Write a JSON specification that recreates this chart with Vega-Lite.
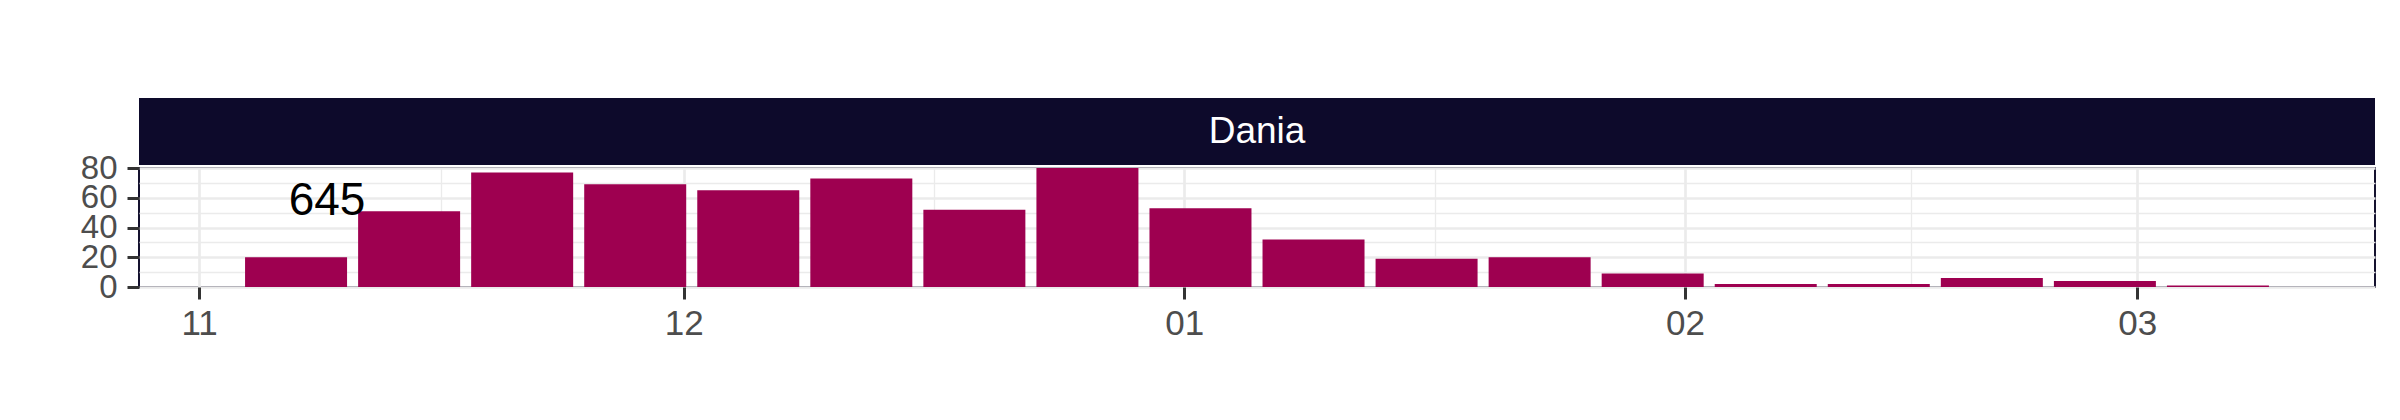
{
  "$schema": "https://vega.github.io/schema/vega-lite/v6.json",
  "padding": {"left": 79, "top": 98, "right": 5, "bottom": 5},
  "background": "white",
  "bounds": "flush",
  "spacing": 3,
  "config": {"font": "Liberation Sans"},
  "datasets": {
    "weekly": [
      {"week": "2022-11-07T00:00:00", "cases": 20},
      {"week": "2022-11-14T00:00:00", "cases": 51},
      {"week": "2022-11-21T00:00:00", "cases": 77},
      {"week": "2022-11-28T00:00:00", "cases": 69},
      {"week": "2022-12-05T00:00:00", "cases": 65},
      {"week": "2022-12-12T00:00:00", "cases": 73},
      {"week": "2022-12-19T00:00:00", "cases": 52},
      {"week": "2022-12-26T00:00:00", "cases": 80},
      {"week": "2023-01-02T00:00:00", "cases": 53},
      {"week": "2023-01-09T00:00:00", "cases": 32},
      {"week": "2023-01-16T00:00:00", "cases": 19},
      {"week": "2023-01-23T00:00:00", "cases": 20},
      {"week": "2023-01-30T00:00:00", "cases": 9},
      {"week": "2023-02-06T00:00:00", "cases": 2},
      {"week": "2023-02-13T00:00:00", "cases": 2},
      {"week": "2023-02-20T00:00:00", "cases": 6},
      {"week": "2023-02-27T00:00:00", "cases": 4},
      {"week": "2023-03-06T00:00:00", "cases": 1}
    ],
    "strip": [{"country": "Dania"}],
    "note": [{"date": "2022-11-08T22:00:00", "value": 58, "label": "645"}]
  },
  "vconcat": [
    {
      "width": 2236,
      "height": 67,
      "data": {"name": "strip"},
      "view": {"fill": "#0d0a2b", "stroke": null},
      "mark": {"type": "text", "color": "white", "fontSize": 37},
      "encoding": {
        "x": {"field": "country", "type": "nominal", "axis": null},
        "y": {"field": "country", "type": "nominal", "axis": null},
        "text": {"field": "country"}
      }
    },
    {
      "width": 2236,
      "height": 119,
      "view": {"stroke": "#15122f", "strokeWidth": 2},
      "resolve": {"axis": {"x": "independent", "y": "independent"}},
      "layer": [
        {
          "data": {"name": "weekly"},
          "mark": {"type": "bar", "color": "#9E0050", "width": 102},
          "encoding": {
            "x": {
              "field": "week",
              "type": "temporal",
              "scale": {
                "domain": [
                  {"year": 2022, "month": 10, "date": 28, "hours": 14, "minutes": 2},
                  {"year": 2023, "month": 3, "date": 15, "hours": 9, "minutes": 58}
                ]
              },
              "axis": {
                "title": null,
                "values": [
                  {"year": 2022, "month": 11, "date": 1},
                  {"year": 2022, "month": 11, "date": 16},
                  {"year": 2022, "month": 12, "date": 1},
                  {"year": 2022, "month": 12, "date": 16, "hours": 12},
                  {"year": 2023, "month": 1, "date": 1},
                  {"year": 2023, "month": 1, "date": 16, "hours": 12},
                  {"year": 2023, "month": 2, "date": 1},
                  {"year": 2023, "month": 2, "date": 15},
                  {"year": 2023, "month": 3, "date": 1}
                ],
                "grid": true,
                "gridColor": "#ebebeb",
                "gridWidth": {"condition": {"test": "date(datum.value) == 1", "value": 2.7}, "value": 1.35},
                "tickSize": 12,
                "tickWidth": 3,
                "tickColor": {"condition": {"test": "date(datum.value) == 1", "value": "#333333"}, "value": "transparent"},
                "labelExpr": "date(datum.value) == 1 ? timeFormat(datum.value, '%m') : ''",
                "labelFontSize": 35,
                "labelColor": "#4d4d4d",
                "labelPadding": 7,
                "labelFlush": false,
                "labelOverlap": false,
                "domain": false
              }
            },
            "y": {
              "field": "cases",
              "type": "quantitative",
              "scale": {"domain": [0, 80], "nice": false},
              "axis": {
                "title": null,
                "values": [0, 10, 20, 30, 40, 50, 60, 70, 80],
                "grid": true,
                "gridColor": "#ebebeb",
                "gridWidth": {"condition": {"test": "datum.value % 20 == 0", "value": 2.7}, "value": 1.35},
                "tickSize": 12,
                "tickWidth": 3,
                "tickColor": {"condition": {"test": "datum.value % 20 == 0", "value": "#333333"}, "value": "transparent"},
                "labelExpr": "datum.value % 20 == 0 ? datum.label : ''",
                "labelFontSize": 33,
                "labelColor": "#4d4d4d",
                "labelPadding": 10,
                "labelOverlap": false,
                "domain": false
              }
            }
          }
        },
        {
          "data": {"name": "note"},
          "mark": {"type": "text", "fontSize": 46, "color": "black", "baseline": "middle"},
          "encoding": {
            "x": {"field": "date", "type": "temporal", "axis": null},
            "y": {"field": "value", "type": "quantitative", "axis": null},
            "text": {"field": "label"}
          }
        }
      ]
    }
  ]
}
